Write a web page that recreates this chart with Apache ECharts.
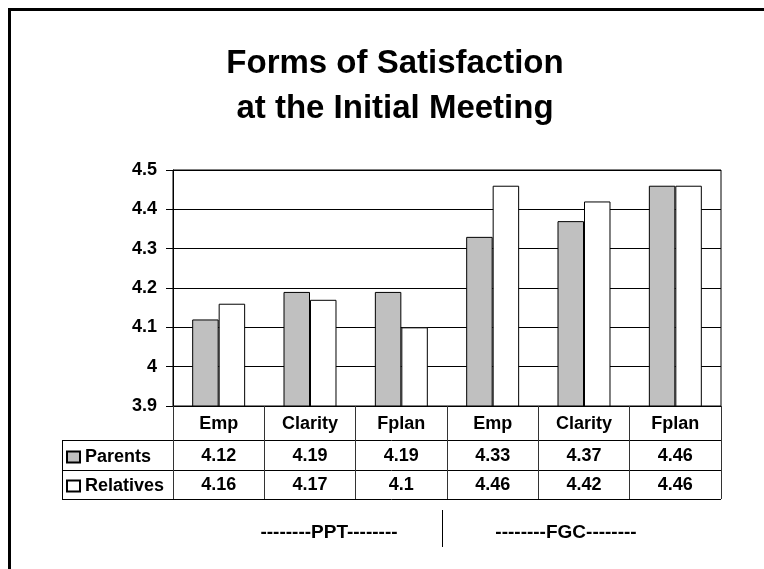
<!DOCTYPE html>
<html>
<head>
<meta charset="utf-8">
<script src="https://cdn.jsdelivr.net/npm/echarts@6/dist/echarts.min.js"></script>
<style>
html,body{margin:0;padding:0;background:#fff;}
#c{width:764px;height:569px;}
</style>
</head>
<body>
<div id="c"></div>
<script>
// ---- data ----
const categories = ['Emp', 'Clarity', 'Fplan', 'Emp', 'Clarity', 'Fplan'];
const parents = [4.12, 4.19, 4.19, 4.33, 4.37, 4.46];
const relatives = [4.16, 4.17, 4.1, 4.46, 4.42, 4.46];
const seriesNames = ['Parents', 'Relatives'];
const groupLabels = ['--------PPT--------', '--------FGC--------'];
const yTicks = { min: 3.9, max: 4.5, step: 0.1 };
const titleLines = ['Forms of Satisfaction', 'at the Initial Meeting'];

// ---- layout ----
const FONT = '"Liberation Sans", Arial, sans-serif';
const G = { left: 173, top: 170, width: 548, height: 236 };
const gBottom = G.top + G.height;           // 406
const gRight = G.left + G.width;            // 721
const tableLeft = 62;
const rowY = [440, 470, 499];                // horizontal lines of table
const tableBottom = rowY[2];

const chart = echarts.init(document.getElementById('c'), null, { renderer: 'canvas' });

const labelStyle = { fontFamily: FONT, fontSize: 18, fontWeight: 'bold', color: '#000' };

const option = {
  backgroundColor: '#fff',
  animation: false,
  title: {
    text: titleLines.join('\n'),
    left: 390,
    top: 36,
    textAlign: 'center',
    textStyle: { fontFamily: FONT, fontSize: 33, fontWeight: 'bold', color: '#000', lineHeight: 45 }
  },
  legend: {
    orient: 'vertical',
    left: 66,
    top: 447,
    padding: 0,
    itemWidth: 13,
    itemHeight: 11,
    itemGap: 9,
    icon: 'rect',
    textStyle: Object.assign({ lineHeight: 20 }, labelStyle),
    data: seriesNames
  },
  grid: {
    left: G.left, top: G.top, width: G.width, height: G.height,
    show: true, borderColor: '#000', borderWidth: 1, backgroundColor: 'transparent'
  },
  yAxis: {
    type: 'value',
    min: yTicks.min, max: yTicks.max, interval: yTicks.step,
    axisLine: { show: true, lineStyle: { color: '#000', width: 1 } },
    axisTick: { show: true, length: 7, lineStyle: { color: '#000' } },
    axisLabel: Object.assign({ margin: 16 }, labelStyle),
    splitLine: { show: true, lineStyle: { color: '#000', width: 1 } }
  },
  xAxis: [
    {
      type: 'category',
      data: categories,
      position: 'bottom',
      axisLine: { show: true, lineStyle: { color: '#000', width: 1 } },
      axisTick: { show: true, length: tableBottom - gBottom, interval: 0, lineStyle: { color: '#333' } },
      axisLabel: Object.assign({ margin: 9, interval: 0 }, labelStyle),
      splitLine: { show: false }
    },
    {
      type: 'category',
      data: parents.map(String),
      position: 'bottom',
      axisLine: { show: false }, axisTick: { show: false }, splitLine: { show: false },
      axisLabel: Object.assign({ margin: 41, interval: 0 }, labelStyle)
    },
    {
      type: 'category',
      data: relatives.map(String),
      position: 'bottom',
      axisLine: { show: false }, axisTick: { show: false }, splitLine: { show: false },
      axisLabel: Object.assign({ margin: 70, interval: 0 }, labelStyle)
    }
  ],
  series: [
    {
      name: seriesNames[0], type: 'bar', xAxisIndex: 0, data: parents,
      barGap: '0%', barCategoryGap: '42%',
      itemStyle: { color: '#C0C0C0', borderColor: '#000', borderWidth: 1 }
    },
    {
      name: seriesNames[1], type: 'bar', xAxisIndex: 0, data: relatives,
      barGap: '0%', barCategoryGap: '42%',
      itemStyle: { color: '#FFFFFF', borderColor: '#000', borderWidth: 1 }
    }
  ],
  graphic: [
    // outer frame (left and top)
    { type: 'polyline', shape: { points: [[9.5, 569], [9.5, 9.5], [764, 9.5]] },
      style: { stroke: '#000', lineWidth: 3, fill: null } },
    // table horizontal lines
    ...rowY.map(y => ({ type: 'line', shape: { x1: tableLeft, y1: y + 0.5, x2: gRight, y2: y + 0.5 },
      style: { stroke: '#000', lineWidth: 1 } })),
    // table left edge
    { type: 'line', shape: { x1: tableLeft + 0.5, y1: rowY[0], x2: tableLeft + 0.5, y2: tableBottom + 1 },
      style: { stroke: '#000', lineWidth: 1 } },
    // group labels
    { type: 'text', x: 329, y: 533, style: { text: groupLabels[0], align: 'center', verticalAlign: 'middle',
      font: 'bold 19px ' + FONT, fill: '#000' } },
    { type: 'text', x: 566, y: 533, style: { text: groupLabels[1], align: 'center', verticalAlign: 'middle',
      font: 'bold 19px ' + FONT, fill: '#000' } },
    { type: 'line', shape: { x1: 442.5, y1: 510, x2: 442.5, y2: 547 }, style: { stroke: '#000', lineWidth: 1 } }
  ]
};

chart.setOption(option);
</script>
</body>
</html>
